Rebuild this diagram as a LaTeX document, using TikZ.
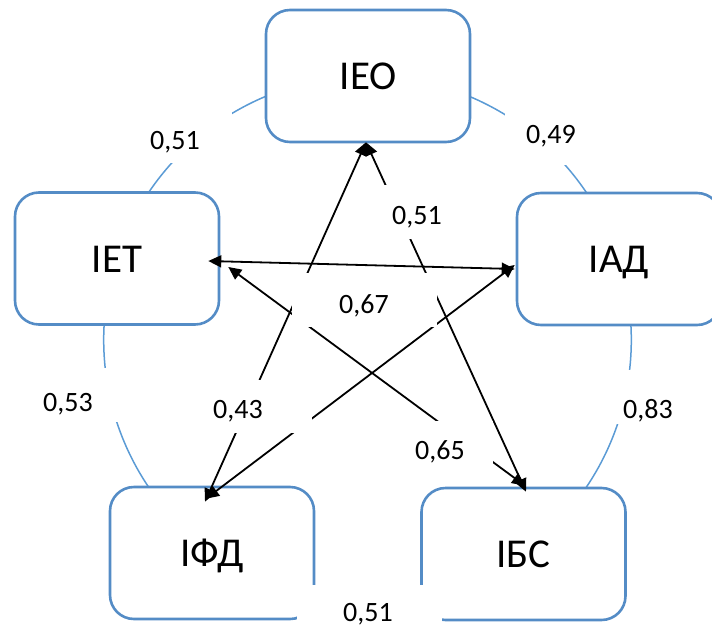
\documentclass[tikz,border=0pt]{standalone}
\usepackage{fontspec}
\setmainfont{Carlito}
\usetikzlibrary{arrows.meta,calc}
\definecolor{boxblue}{RGB}{84,140,198}
\definecolor{ringblue}{RGB}{91,155,213}
\begin{document}
\begin{tikzpicture}[x=1pt,y=-1pt,
  box/.style={draw=boxblue, line width=2.6pt, fill=white, rounded corners=24pt,
    minimum width=204pt, minimum height=132pt, inner sep=0pt,
    font=\fontsize{41}{41}\selectfont, text height=27pt, text depth=0pt},
  lab/.style={anchor=base, inner sep=0pt, font=\fontsize{28}{28}\selectfont},
  chord/.style={line width=1.8pt,
    {Triangle[length=13pt,width=12pt]}-{Triangle[length=13pt,width=12pt]}},
  ring/.style={draw=ringblue, line width=1.5pt},
  blank/.style={fill=white}]
\useasboundingbox (0,0) rectangle (712,629);
% ring
\draw[ring] (367.5,339.8) circle[radius=263.8pt];
% boxes
\node[box] (EO) at (368,76) {ІЕО};
\node[box] (ET) at (117,258.5) {ІЕТ};
\node[box] (AD) at (619,259) {ІАД};
\node[box] (FD) at (212,553) {ІФД};
\node[box] (BS) at (523.5,554) {ІБС};
% arrow ends
\coordinate (et1) at ($(ET.east)+(-12,2.5)$);
\coordinate (et2) at ($(ET.east)+(8,8.5)$);
\coordinate (ad1) at ($(AD.west)+(-1,10)$);
\coordinate (ad2) at ($(AD.west)+(-1,6)$);
\coordinate (eo1) at ($(EO.south)+(-2,-1)$);
\coordinate (fd1) at ($(FD.north)+(-7,16)$);
\coordinate (fd2) at ($(FD.north)+(-6,13)$);
\coordinate (bs1) at ($(BS.north)+(2.5,5)$);
\coordinate (bs2) at ($(BS.north)+(1.5,-1)$);
% chords
\draw[chord] (et1) -- (ad1);
\draw[chord] (eo1) -- (fd1);
\draw[chord] (eo1) -- (bs1);
\draw[chord] (et2) -- (bs2);
\draw[chord] (ad2) -- (fd2);
% label backgrounds
\fill[blank] (350,185) rectangle (489,239);
\fill[blank] (292,273) rectangle (437,327);
\fill[blank] (167,380) rectangle (312,433);
\fill[blank] (348,421) rectangle (493,475);
\fill[blank] (87,109) rectangle (232,163);
\fill[blank] (505,111) rectangle (650,165);
\fill[blank] (0,368) rectangle (140,422);
\fill[blank] (600,370) rectangle (745,424);
\fill[blank] (297,585) rectangle (442,640);
% labels
\node[lab] (l1) at (417,224) {0,51};
\node[lab] (l2) at (364,313) {0,67};
\node[lab] (l3) at (238,418) {0,43};
\node[lab] (l4) at (440,459) {0,65};
\node[lab] (l5) at (175,149) {0,51};
\node[lab] (l6) at (551,143) {0,49};
\node[lab] (l7) at (68,411) {0,53};
\node[lab] (l8) at (648,418) {0,83};
\node[lab] (l9) at (368,621) {0,51};
\end{tikzpicture}
\end{document}
